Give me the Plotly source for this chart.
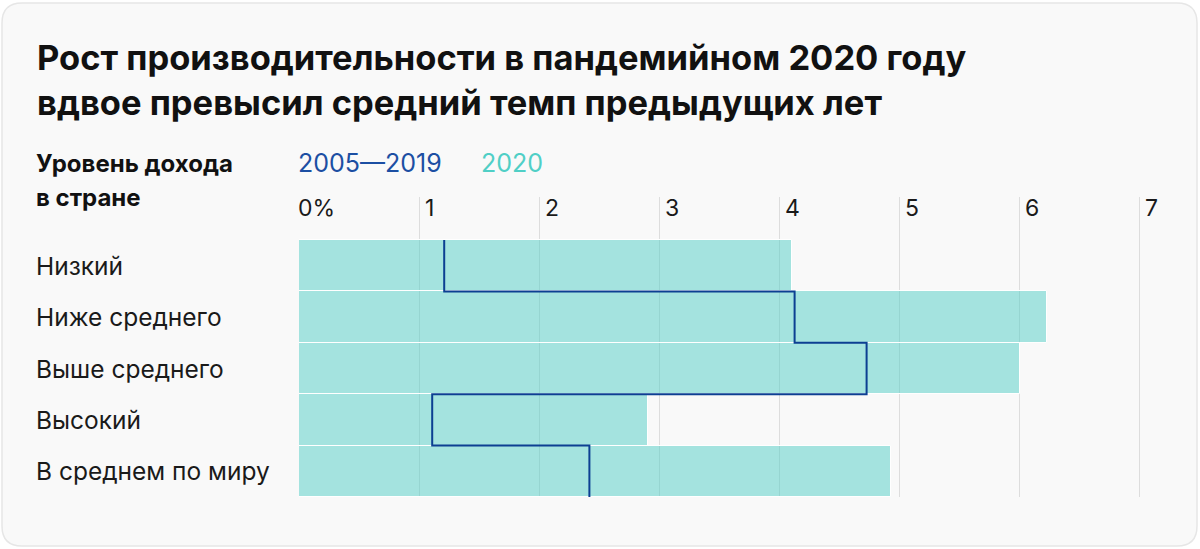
import numpy as np
import plotly.graph_objects as go

# Data
categories = ["Низкий", "Ниже среднего", "Выше среднего", "Высокий", "В среднем по миру"]
growth_2020 = [4.11, 6.23, 6.01, 2.91, 4.93]
growth_2005_2019 = [1.21, 4.13, 4.73, 1.11, 2.42]
tick_values = [0, 1, 2, 3, 4, 5, 6, 7]
tick_labels = ["0%", "1", "2", "3", "4", "5", "6", "7"]

W, H = 1200, 549
ML, MR, MT, MB = 299, 25, 197, 52
PW, PH = W - ML - MR, H - MT - MB


def px_x(px):
    return (px - ML) / PW


def px_y(py):
    return (H - MB - py) / PH


FONT = "Inter"
TEAL = "rgba(80, 206, 198, 0.5)"
NAVY = "#0c3f92"

n = len(categories)
pos = np.arange(n)

fig = go.Figure()

fig.add_trace(go.Bar(
    x=growth_2020,
    y=pos,
    orientation="h",
    width=1,
    marker=dict(color=TEAL, line=dict(color="white", width=1)),
    showlegend=False,
    hoverinfo="skip",
))

# step line for the 2005-2019 average
step_x = list(growth_2005_2019) + [growth_2005_2019[-1]]
step_y = list(np.arange(n + 1) - 0.5)
fig.add_trace(go.Scatter(
    x=step_x,
    y=step_y,
    mode="lines",
    line=dict(color=NAVY, width=2, shape="vh"),
    showlegend=False,
    hoverinfo="skip",
))

band = 51.4
fig.update_yaxes(
    range=[n - 0.5, n - 0.5 - PH / band],
    showgrid=False, zeroline=False, showticklabels=False, showline=False,
)
fig.update_xaxes(
    range=[0, PW / 120],
    tickvals=tick_values[1:],
    showticklabels=False,
    showgrid=True, gridcolor="#dddddd", gridwidth=1,
    zeroline=False, showline=False,
)

annotations = []
# title, one annotation per line
for text, py in [("Рост производительности в пандемийном 2020 году", 57),
                 ("вдвое превысил средний темп предыдущих лет", 102)]:
    annotations.append(dict(
        x=px_x(35), xref="paper", y=px_y(py), yref="paper",
        text=f"<b>{text}</b>", xanchor="left", yanchor="middle",
        showarrow=False, font=dict(family=FONT, size=34.5, color="#111111"),
    ))
# category labels
for i, cat in enumerate(categories):
    annotations.append(dict(
        x=px_x(34), xref="paper", y=i, yref="y", text=cat,
        xanchor="left", yanchor="middle", showarrow=False,
        font=dict(family=FONT, size=24.5, color="#1a1a1a"),
    ))
# x tick labels
for v, lab in zip(tick_values, tick_labels):
    annotations.append(dict(
        x=v, xref="x", y=px_y(208), yref="paper", text=lab,
        xanchor="left", yanchor="middle", xshift=-3 if v == 0 else 4,
        showarrow=False,
        font=dict(family=FONT, size=23, color="#1a1a1a"),
    ))
# header
for text, py in [("Уровень дохода", 163), ("в стране", 197)]:
    annotations.append(dict(
        x=px_x(34), xref="paper", y=px_y(py), yref="paper",
        text=f"<b>{text}</b>", xanchor="left", yanchor="middle",
        showarrow=False, font=dict(family=FONT, size=24, color="#111111"),
    ))
annotations.append(dict(
    x=0, xref="x", y=px_y(163), yref="paper", text="2005—2019",
    xanchor="left", yanchor="middle", xshift=-3, showarrow=False,
    font=dict(family=FONT, size=25, color="#1c4fa3"),
))
annotations.append(dict(
    x=px_x(479), xref="paper", y=px_y(163), yref="paper", text="2020",
    xanchor="left", yanchor="middle", showarrow=False,
    font=dict(family=FONT, size=25, color="#50cfc6"),
))

# rounded card background
x0, x1 = px_x(2), px_x(1197)
y0, y1 = px_y(546), px_y(3)
rx, ry = 20 / PW, 20 / PH
card = (f"M {x0 + rx} {y0} L {x1 - rx} {y0} Q {x1} {y0} {x1} {y0 + ry} "
        f"L {x1} {y1 - ry} Q {x1} {y1} {x1 - rx} {y1} "
        f"L {x0 + rx} {y1} Q {x0} {y1} {x0} {y1 - ry} "
        f"L {x0} {y0 + ry} Q {x0} {y0} {x0 + rx} {y0} Z")

fig.update_layout(
    width=W, height=H,
    margin=dict(l=ML, r=MR, t=MT, b=MB),
    paper_bgcolor="#ffffff",
    plot_bgcolor="rgba(0,0,0,0)",
    shapes=[dict(type="path", path=card, xref="paper", yref="paper",
                 fillcolor="#f9f9f9", line=dict(color="#e6e6e6", width=1.5),
                 layer="below")],
    annotations=annotations,
    bargap=0,
)

fig.write_html("out.html", config={"displayModeBar": False},
               post_script="document.body.style.margin='0px';")
